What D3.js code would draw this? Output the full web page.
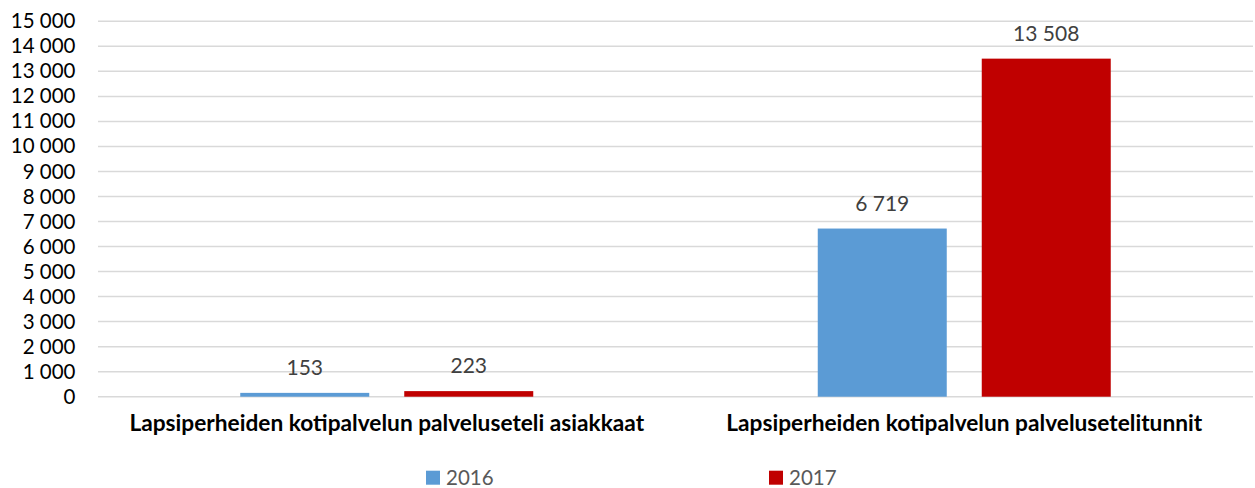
<!DOCTYPE html>
<html>
<head>
<meta charset="utf-8">
<script src="https://cdn.jsdelivr.net/npm/d3@7/dist/d3.min.js"></script>
<style>
  html, body { margin: 0; padding: 0; background: #fff; }
  svg { display: block; }
  text { font-family: Lato, "Open Sans", sans-serif; }
</style>
</head>
<body>
<svg id="chart" width="1255" height="488"></svg>
<script>
// Chart data
const categories = [
  "Lapsiperheiden kotipalvelun palveluseteli asiakkaat",
  "Lapsiperheiden kotipalvelun palvelusetelitunnit"
];
const seriesNames = ["2016", "2017"];
const values2016 = [153, 6719];
const values2017 = [223, 13508];
const yTicks = [0, 1000, 2000, 3000, 4000, 5000, 6000, 7000, 8000, 9000, 10000, 11000, 12000, 13000, 14000, 15000];
const colors = ["#5b9bd5", "#c00000"];

const svg = d3.select("#chart");
const margin = { left: 98, right: 2, top: 21.3, bottom: 91.3 };
const W = 1255, H = 488;

const x = d3.scaleBand().domain(categories).range([margin.left, W - margin.right]).paddingInner(0).paddingOuter(0);
const y = d3.scaleLinear().domain([0, 15000]).range([H - margin.bottom, margin.top]);

const fmt = v => d3.format(",")(v).replace(/,/g, " ");

// Gridlines
svg.append("g")
  .selectAll("line")
  .data(yTicks)
  .join("line")
  .attr("x1", margin.left).attr("x2", W - margin.right)
  .attr("y1", d => y(d)).attr("y2", d => y(d))
  .attr("stroke", "#d9d9d9").attr("stroke-width", 1.5);

// Y axis labels
const yAxis = d3.axisLeft(y).tickValues(yTicks).tickFormat(fmt).tickSize(0).tickPadding(0);
const gy = svg.append("g").attr("transform", `translate(75.5,0)`).call(yAxis);
gy.select(".domain").remove();
gy.selectAll("text").attr("font-family", "Lato, sans-serif").attr("font-size", 20.5).attr("fill", "#000");

// Bars within each category
const barW = 129, gap = 35;
const inner = d3.scaleOrdinal().domain(seriesNames).range([
  (x.bandwidth() - (2 * barW + gap)) / 2,
  (x.bandwidth() - (2 * barW + gap)) / 2 + barW + gap
]);

const rows = [];
categories.forEach((c, i) => {
  rows.push({ cat: c, s: "2016", v: values2016[i], color: colors[0] });
  rows.push({ cat: c, s: "2017", v: values2017[i], color: colors[1] });
});

svg.append("g")
  .selectAll("rect")
  .data(rows)
  .join("rect")
  .attr("x", d => x(d.cat) + inner(d.s))
  .attr("width", barW)
  .attr("y", d => y(d.v))
  .attr("height", d => y(0) - y(d.v))
  .attr("fill", d => d.color);

// Value labels
svg.append("g")
  .selectAll("text")
  .data(rows)
  .join("text")
  .attr("x", d => x(d.cat) + inner(d.s) + barW / 2)
  .attr("y", d => y(d.v) - 18)
  .attr("text-anchor", "middle")
  .attr("font-size", 21)
  .attr("fill", "#404040")
  .text(d => fmt(d.v));

// Category labels
svg.append("g")
  .selectAll("text")
  .data(categories)
  .join("text")
  .attr("x", d => x(d) + x.bandwidth() / 2)
  .attr("y", 431)
  .attr("text-anchor", "middle")
  .attr("font-size", 22.7)
  .attr("font-weight", "bold")
  .attr("fill", "#000")
  .text(d => d);

// Legend
const legendX = [426, 769];
const lg = svg.append("g").selectAll("g").data(seriesNames).join("g")
  .attr("transform", (d, i) => `translate(${legendX[i]},470.7)`);
lg.append("rect").attr("width", 14).attr("height", 14).attr("fill", (d, i) => colors[i]);
lg.append("text").attr("x", 20).attr("y", 14.3).attr("font-size", 20.5).attr("fill", "#595959").text(d => d);
</script>
</body>
</html>
